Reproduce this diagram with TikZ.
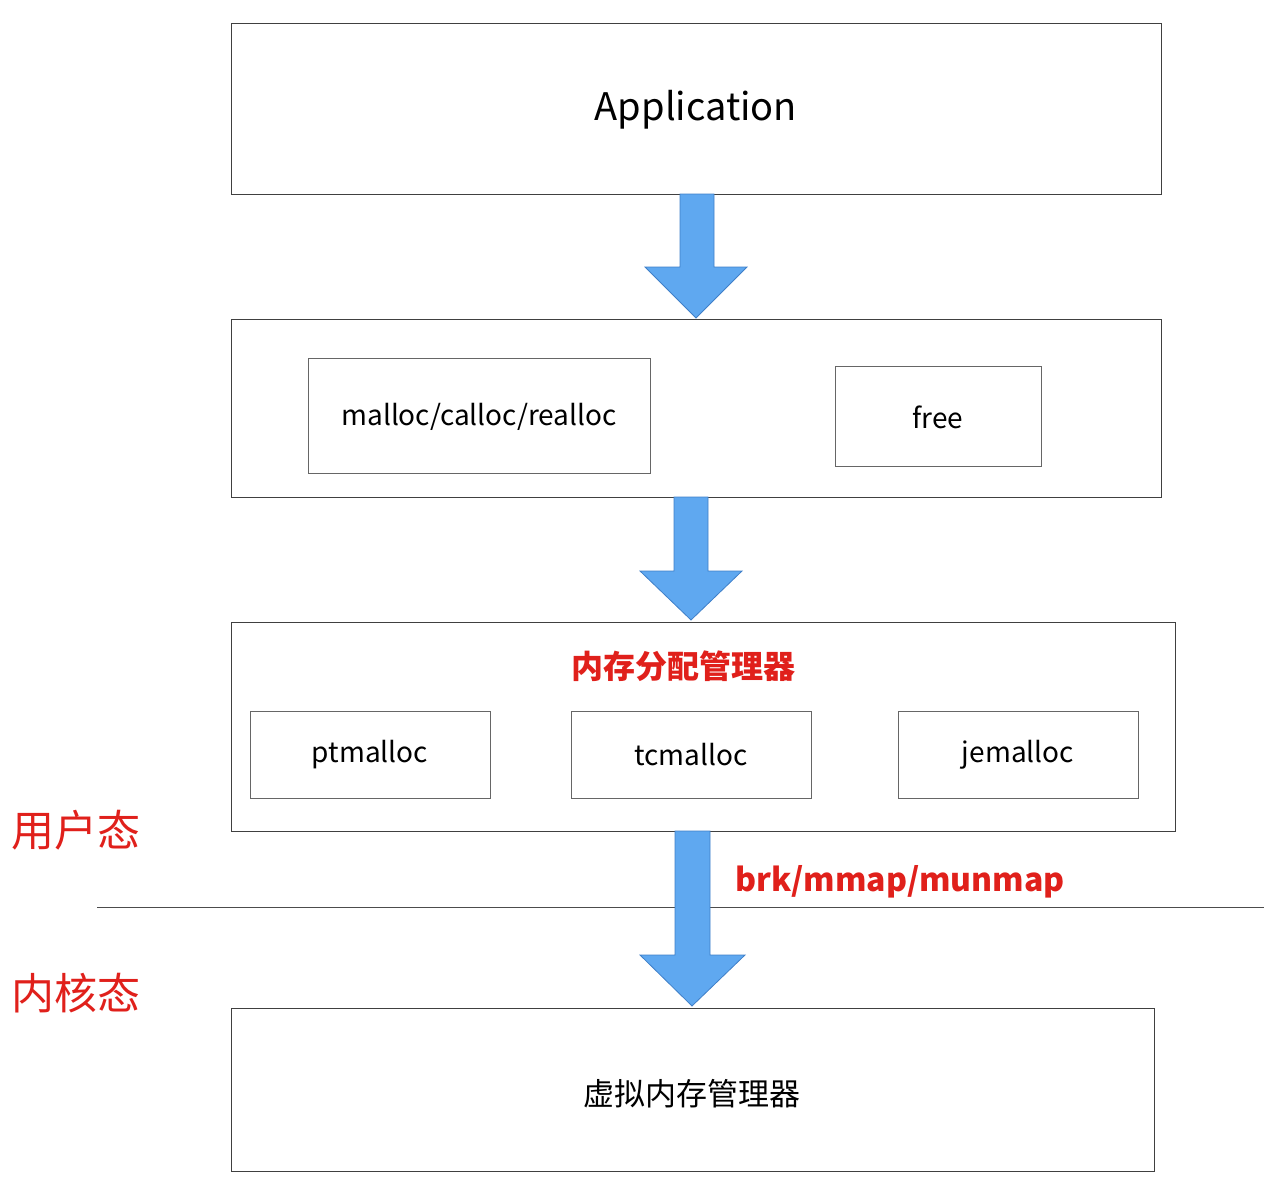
\documentclass[tikz,border=0pt]{standalone}
\usepackage{fontspec}
\setmainfont{Noto Sans CJK SC}
\definecolor{arrfill}{HTML}{5FA8F0}
\definecolor{arrdraw}{HTML}{3F7FC8}
\definecolor{lblred}{HTML}{E0201B}
\begin{document}
\begin{tikzpicture}[x=1pt,y=-1pt,
 box/.style={draw=black!75,line width=1pt},
 sub/.style={draw=black!60,line width=1pt},
 arr/.style={fill=arrfill,draw=arrdraw,line width=0.8pt},
 red/.style={text=lblred,font=\fontsize{32}{32}\selectfont\bfseries}]
\useasboundingbox (0,0) rectangle (1264,1186);
\draw[box] (231,23) rectangle (1161,194);
\node (app) at (696,110) {\fontsize{38}{38}\selectfont Application};
\draw[box] (231,319) rectangle (1161,497);
\draw[sub] (308,358) rectangle (650,473);
\node (mal) at (479,417) {\fontsize{28}{28}\selectfont malloc/calloc/realloc};
\draw[sub] (835,366) rectangle (1041,466);
\node (free) at (938,417) {\fontsize{28}{28}\selectfont free};
\draw[box] (231,622) rectangle (1175,831);
\node[red] (mgr) at (683,666) {内存分配管理器};
\draw[sub] (250,711) rectangle (490,798);
\node (pt) at (370,755) {\fontsize{28}{28}\selectfont ptmalloc};
\draw[sub] (571,711) rectangle (811,798);
\node (tc) at (691,755) {\fontsize{28}{28}\selectfont tcmalloc};
\draw[sub] (898,711) rectangle (1138,798);
\node (je) at (1018,755) {\fontsize{28}{28}\selectfont jemalloc};
\draw[box] (231,1008) rectangle (1154,1171);
\node (vm) at (692,1094) {\fontsize{31}{31}\selectfont 虚拟内存管理器};
\draw[arr] (680,194) -- (714,194) -- (714,267) -- (747,267) -- (696,318) -- (645,267) -- (680,267) -- cycle;
\draw[arr] (674,497) -- (708,497) -- (708,571) -- (742,571) -- (691,620) -- (640,571) -- (674,571) -- cycle;
\draw[black!70,line width=1pt] (97,907) -- (1264,907);
\draw[arr] (675,831) -- (710,831) -- (710,955) -- (745,955) -- (692,1006) -- (640,955) -- (675,955) -- cycle;
\node[red] (brk) at (900,882) {brk/mmap/munmap};
\node[text=lblred,font=\fontsize{43}{43}\selectfont] (u) at (76,830) {用户态};
\node[text=lblred,font=\fontsize{43}{43}\selectfont] (k) at (76,993) {内核态};
\end{tikzpicture}
\end{document}
